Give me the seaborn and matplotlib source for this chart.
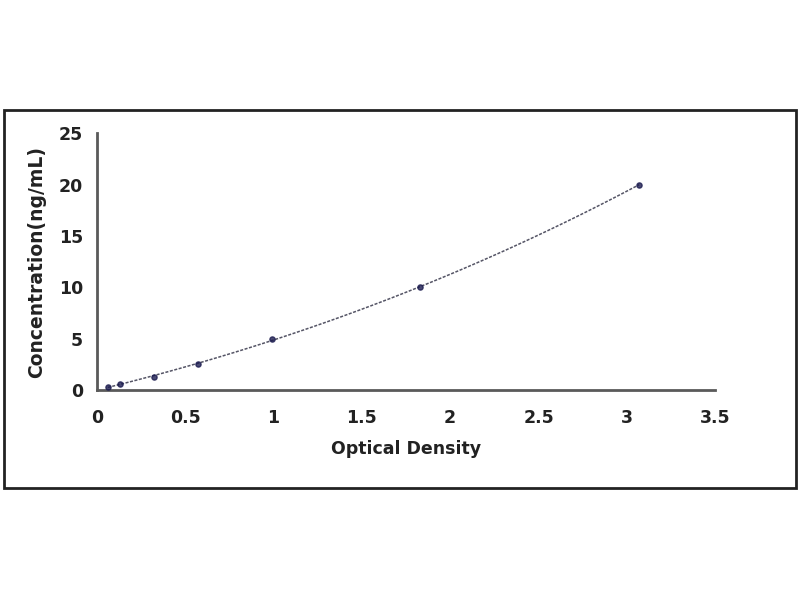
import numpy as np
import pandas as pd
import matplotlib
matplotlib.use('Agg')
import matplotlib.pyplot as plt
import seaborn as sns

# Standard curve values
od = [0.062, 0.134, 0.325, 0.57, 0.99, 1.83, 3.07]
conc = [0.312, 0.625, 1.25, 2.5, 5, 10, 20]
df = pd.DataFrame({'od': od, 'conc': conc})

sns.set_style('white')
plt.rcParams['font.family'] = ['DejaVu Sans']

fig = plt.figure(figsize=(8, 6), dpi=100)
ax = fig.add_axes([0.121, 0.35, 0.773, 0.428])

# fitted curve + points
sns.regplot(data=df, x='od', y='conc', order=3, ci=None, ax=ax,
            scatter_kws={'marker': 'D', 's': 14, 'color': '#1c1c50', 'zorder': 3},
            line_kws={'color': '#555566', 'lw': 1.1, 'ls': (0, (2, 1))})

ax.set_xlim(0, 3.5)
ax.set_ylim(0, 25)
ax.set_xticks(np.arange(0, 3.51, 0.5))
ax.set_xticklabels(['0', '0.5', '1', '1.5', '2', '2.5', '3', '3.5'])
ax.set_yticks(range(0, 26, 5))

sns.despine(ax=ax)
for s in ['left', 'bottom']:
    ax.spines[s].set_color('#5a5a5a')
    ax.spines[s].set_linewidth(2)
ax.tick_params(axis='both', direction='in', length=6, width=1.5, color='#5a5a5a',
               labelsize=12.5)
ax.tick_params(axis='x', pad=14)
ax.tick_params(axis='y', pad=10)
for lbl in ax.get_xticklabels() + ax.get_yticklabels():
    lbl.set_fontweight('bold')
    lbl.set_color('#222222')

ax.set_xlabel('Optical Density', fontsize=12.5, fontweight='bold', color='#222222', labelpad=9)
ax.set_ylabel('Concentration(ng/mL)', fontsize=13.5, fontweight='bold', color='#222222', labelpad=9)

# outer frame around the chart
frame = plt.Rectangle((0.005, 0.187), 0.99, 0.63, transform=fig.transFigure,
                      fill=False, lw=2, ec='#222222')
fig.patches.append(frame)

fig.savefig('out.png', dpi=100)
